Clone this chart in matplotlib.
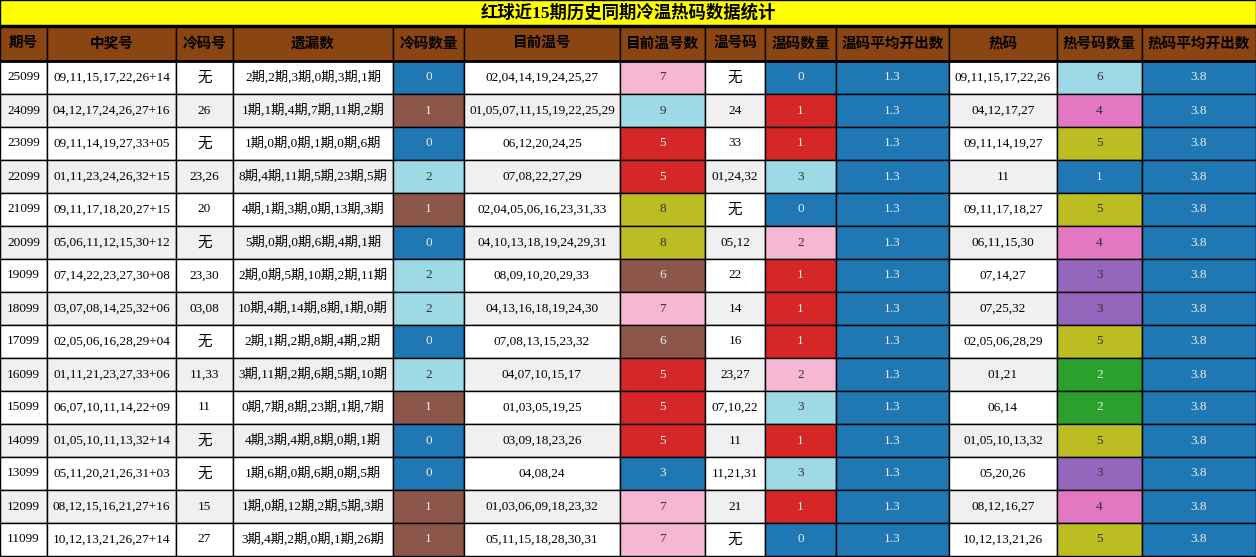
import matplotlib
matplotlib.use("Agg")
import matplotlib.pyplot as plt
from matplotlib.patches import Rectangle

title = "红球近15期历史同期冷温热码数据统计"
headers = ["期号","中奖号","冷码号","遗漏数","冷码数量","目前温号","目前温号数","温号码","温码数量","温码平均开出数","热码","热号码数量","热码平均开出数"]
periods = ["25099","24099","23099","22099","21099","20099","19099","18099","17099","16099","15099","14099","13099","12099","11099"]
winning = ["09,11,15,17,22,26+14","04,12,17,24,26,27+16","09,11,14,19,27,33+05","01,11,23,24,26,32+15","09,11,17,18,20,27+15","05,06,11,12,15,30+12","07,14,22,23,27,30+08","03,07,08,14,25,32+06","02,05,06,16,28,29+04","01,11,21,23,27,33+06","06,07,10,11,14,22+09","01,05,10,11,13,32+14","05,11,20,21,26,31+03","08,12,15,16,21,27+16","10,12,13,21,26,27+14"]
cold = ["无","26","无","23,26","20","无","23,30","03,08","无","11,33","11","无","无","15","27"]
missing = ["2期,2期,3期,0期,3期,1期","1期,1期,4期,7期,11期,2期","1期,0期,0期,1期,0期,6期","8期,4期,11期,5期,23期,5期","4期,1期,3期,0期,13期,3期","5期,0期,0期,6期,4期,1期","2期,0期,5期,10期,2期,11期","10期,4期,14期,8期,1期,0期","2期,1期,2期,8期,4期,2期","3期,11期,2期,6期,5期,10期","0期,7期,8期,23期,1期,7期","4期,3期,4期,8期,0期,1期","1期,6期,0期,6期,0期,5期","1期,0期,12期,2期,5期,3期","3期,4期,2期,0期,1期,26期"]
cold_cnt = [0,1,0,2,1,0,2,2,0,2,1,0,0,1,1]
warm_now = ["02,04,14,19,24,25,27","01,05,07,11,15,19,22,25,29","06,12,20,24,25","07,08,22,27,29","02,04,05,06,16,23,31,33","04,10,13,18,19,24,29,31","08,09,10,20,29,33","04,13,16,18,19,24,30","07,08,13,15,23,32","04,07,10,15,17","01,03,05,19,25","03,09,18,23,26","04,08,24","01,03,06,09,18,23,32","05,11,15,18,28,30,31"]
warm_now_cnt = [7,9,5,5,8,8,6,7,6,5,5,5,3,7,7]
warm = ["无","24","33","01,24,32","无","05,12","22","14","16","23,27","07,10,22","11","11,21,31","21","无"]
warm_cnt = [0,1,1,3,0,2,1,1,1,2,3,1,3,1,0]
warm_avg = [1.3]*15
hot = ["09,11,15,17,22,26","04,12,17,27","09,11,14,19,27","11","09,11,17,18,27","06,11,15,30","07,14,27","07,25,32","02,05,06,28,29","01,21","06,14","01,05,10,13,32","05,20,26","08,12,16,27","10,12,13,21,26"]
hot_cnt = [6,4,5,1,5,4,3,3,5,2,2,5,3,4,5]
hot_avg = [3.8]*15

BLUE="#1f77b4"; BROWN="#8c564b"; LCYAN="#9edae5"; LPINK="#f7b6d2"; RED="#d62728"
OLIVE="#bcbd22"; PINK="#e377c2"; PURPLE="#9467bd"; GREEN="#2ca02c"
cold_map = {0:BLUE,1:BROWN,2:LCYAN}
wn_map = {3:BLUE,5:RED,6:BROWN,7:LPINK,8:OLIVE,9:LCYAN}
w_map = {0:BLUE,1:RED,2:LPINK,3:LCYAN}
h_map = {1:BLUE,2:GREEN,3:PURPLE,4:PINK,5:OLIVE,6:LCYAN}
dark_text = {LCYAN,LPINK,OLIVE,PINK,PURPLE}

xs = [0,47,176,233,393,464,620,705,765,836,949,1057,1142,1256]
W, H = 1256, 557
fig = plt.figure(figsize=(W/100, H/100), dpi=100)
ax = fig.add_axes([0,0,1,1])
ax.set_xlim(0,W); ax.set_ylim(H,0); ax.axis("off")
FAM = ["Liberation Serif","Noto Sans CJK SC"]

def cell(x0,x1,y0,y1,fc,txt,color="black",bold=False,size=9.5):
    ax.add_patch(Rectangle((x0,y0),x1-x0,y1-y0,facecolor=fc,edgecolor="black",lw=1))
    ax.text((x0+x1)/2,(y0+y1)/2,txt,ha="center",va="center",color=color,
            fontsize=size,family=FAM,fontweight="bold" if bold else "normal")

cell(0,W,0,26,"#ffff00",title,bold=True,size=12.5)
ax.plot([0,W],[26,26],color="black",lw=2.5)
for i,h in enumerate(headers):
    cell(xs[i],xs[i+1],26,61,"#8b4513",h,bold=True,size=10.5)
ax.plot([0,W],[61,61],color="black",lw=2)

rh = 33
for r in range(15):
    y0 = 61+r*rh; y1 = y0+rh
    bg = "white" if r%2==0 else "#f0f0f0"
    vals = [periods[r],winning[r],cold[r],missing[r],None,warm_now[r],None,warm[r],None,None,hot[r],None,None]
    colored = {4:(cold_map[cold_cnt[r]],str(cold_cnt[r])),
               6:(wn_map[warm_now_cnt[r]],str(warm_now_cnt[r])),
               8:(w_map[warm_cnt[r]],str(warm_cnt[r])),
               9:(BLUE,str(warm_avg[r])),
               11:(h_map[hot_cnt[r]],str(hot_cnt[r])),
               12:(BLUE,str(hot_avg[r]))}
    for c in range(13):
        if c in colored:
            fc,t = colored[c]
            cell(xs[c],xs[c+1],y0,y1,fc,t,color="#333333" if fc in dark_text else "#eeeeee")
        else:
            cell(xs[c],xs[c+1],y0,y1,bg,vals[c],size=10.5 if vals[c]=="无" else 9.5)

fig.savefig("out.png",dpi=100)
